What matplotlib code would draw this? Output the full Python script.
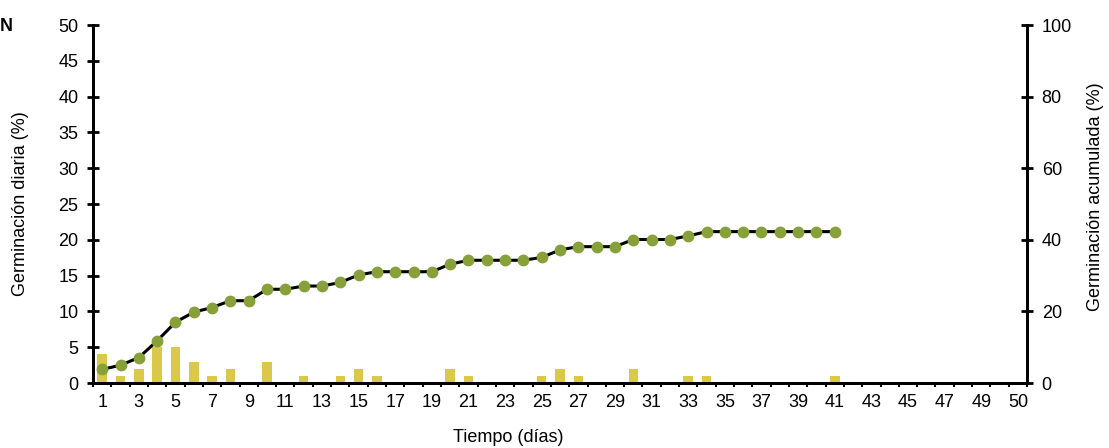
import numpy as np
import matplotlib.pyplot as plt

plt.rcParams['font.family'] = ['Liberation Sans', 'DejaVu Sans']

# Data
dias = np.arange(1, 42)
diaria = [4, 1, 2, 5, 5, 3, 1, 2, 0, 3, 0, 1, 0, 1, 2, 1, 0, 0, 0, 2, 1,
          0, 0, 0, 1, 2, 1, 0, 0, 2, 0, 0, 1, 1, 0, 0, 0, 0, 0, 0, 1]
acumulada = [3.8, 5.0, 7.1, 11.8, 17.0, 19.8, 21.1, 23.0, 23.0, 26.2, 26.2,
             27.1, 27.1, 28.1, 30.2, 31.1, 31.1, 31.1, 31.1, 33.2, 34.3,
             34.3, 34.3, 34.3, 35.1, 37.2, 38.1, 38.1, 38.1, 40.1, 40.1,
             40.1, 41.1, 42.3, 42.3, 42.3, 42.3, 42.3, 42.3, 42.3, 42.3]
xtick_pos = list(range(1, 50, 2)) + [51]
xtick_lab = [str(v) for v in range(1, 50, 2)] + ['50']

bar_color = '#D9C84A'
dot_color = '#87A03A'

fig = plt.figure(figsize=(11.09, 4.48), dpi=100)
ax = fig.add_axes([0.0839, 0.145, 0.8422, 0.799])
ax2 = ax.twinx()

ax.bar(dias, diaria, width=0.52, color=bar_color, zorder=2)
ax2.plot(dias, acumulada, color='black', lw=2.2, zorder=3)
ax2.plot(dias, acumulada, 'o', color=dot_color, ms=7.5, mec=dot_color, zorder=4)

ax.set_xlim(0.5, 51.5)
ax.set_ylim(0, 50)
ax2.set_ylim(0, 100)

ax.set_yticks(np.arange(0, 51, 5))
ax2.set_yticks(np.arange(0, 101, 20))
ax.set_xticks(xtick_pos)
ax.set_xticklabels(xtick_lab)
ax.set_xticks(np.arange(0.5, 51.6, 1), minor=True)

for a in (ax, ax2):
    for s in a.spines.values():
        s.set_linewidth(2)
    a.spines['top'].set_visible(False)
    a.tick_params(axis='y', direction='inout', length=9, width=2, labelsize=13, pad=6)

ax.tick_params(axis='x', which='major', length=0, labelsize=13, pad=8)
ax.tick_params(axis='x', which='minor', direction='out', length=3, width=1.5)

ax.set_ylabel('Germinación diaria (%)', fontsize=13)
ax.yaxis.set_label_coords(-0.069, 0.5)
ax2.set_ylabel('Germinación acumulada (%)', fontsize=13)
ax2.yaxis.set_label_coords(1.064, 0.52)
fig.text(508 / 1109, 0.005, 'Tiempo (días)', ha='center', va='bottom', fontsize=13)
fig.text(0.0, 0.94, 'N', fontsize=13, fontweight='bold', ha='left', va='center')

fig.savefig('out.png', dpi=100)
